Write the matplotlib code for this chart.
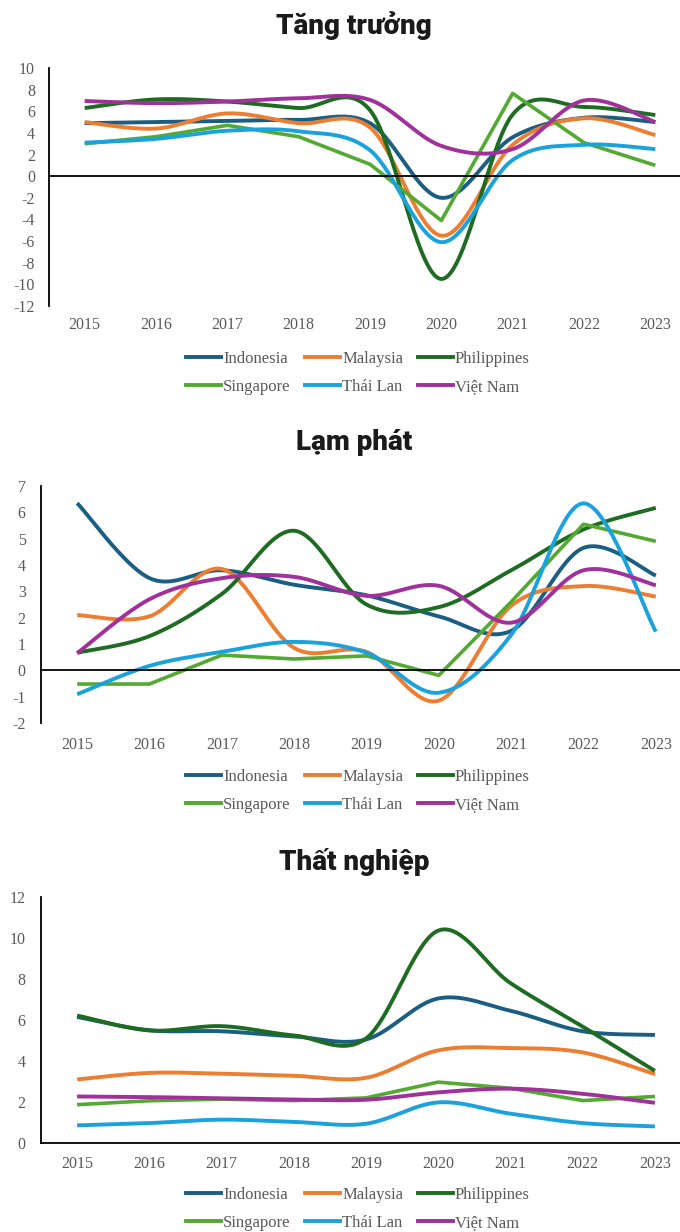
import numpy as np
import matplotlib.pyplot as plt
from matplotlib.lines import Line2D

# ---- data ----
years = ["2015", "2016", "2017", "2018", "2019", "2020", "2021", "2022", "2023"]
countries = ["Indonesia", "Malaysia", "Philippines", "Singapore", "Thái Lan", "Việt Nam"]
colors = ["#1b5e83", "#ed7d31", "#1e6b22", "#53a932", "#1aa2dc", "#a0309a"]

# Tang truong (GDP growth, %)
growth_idn = [4.9, 5.0, 5.1, 5.2, 4.9, -2.0, 3.6, 5.4, 5.0]
growth_mys = [5.0, 4.4, 5.8, 4.9, 4.5, -5.5, 2.9, 5.35, 3.8]
growth_phl = [6.3, 7.1, 6.9, 6.3, 6.1, -9.5, 5.7, 6.4, 5.65]
growth_sgp = [3.0, 3.65, 4.7, 3.65, 1.1, -4.1, 7.65, 3.1, 1.0]
growth_tha = [3.1, 3.45, 4.2, 4.15, 2.4, -6.1, 1.5, 2.9, 2.5]
growth_vnm = [6.95, 6.75, 6.9, 7.2, 7.05, 2.8, 2.5, 7.0, 5.0]

# Lam phat (inflation, %)
infl_idn = [6.35, 3.5, 3.8, 3.25, 2.85, 2.05, 1.5, 4.65, 3.6]
infl_mys = [2.1, 2.05, 3.85, 0.85, 0.7, -1.15, 2.45, 3.2, 2.8]
infl_phl = [0.67, 1.3, 2.9, 5.3, 2.5, 2.4, 3.8, 5.35, 6.17]
infl_sgp = [-0.52, -0.52, 0.58, 0.43, 0.55, -0.19, 2.6, 5.55, 4.9]
infl_tha = [-0.91, 0.17, 0.7, 1.08, 0.67, -0.85, 1.35, 6.34, 1.47]
infl_vnm = [0.65, 2.7, 3.5, 3.55, 2.83, 3.21, 1.81, 3.8, 3.23]

# That nghiep (unemployment, %)
unemp_idn = [6.15, 5.5, 5.45, 5.2, 5.05, 7.05, 6.45, 5.45, 5.27]
unemp_mys = [3.1, 3.42, 3.38, 3.28, 3.18, 4.52, 4.63, 4.42, 3.36]
unemp_phl = [6.22, 5.49, 5.7, 5.25, 5.1, 10.36, 7.8, 5.68, 3.52]
unemp_sgp = [1.87, 2.06, 2.14, 2.07, 2.2, 2.97, 2.67, 2.07, 2.27]
unemp_tha = [0.86, 0.97, 1.14, 1.03, 0.94, 1.98, 1.43, 0.97, 0.81]
unemp_vnm = [2.27, 2.24, 2.18, 2.12, 2.11, 2.47, 2.65, 2.4, 1.96]

panels = [
    ("Tăng trưởng", [growth_idn, growth_mys, growth_phl, growth_sgp, growth_tha, growth_vnm],
     (-12, 10), range(-12, 11, 2)),
    ("Lạm phát", [infl_idn, infl_mys, infl_phl, infl_sgp, infl_tha, infl_vnm],
     (-2, 7), range(-2, 8)),
    ("Thất nghiệp", [unemp_idn, unemp_mys, unemp_phl, unemp_sgp, unemp_tha, unemp_vnm],
     (0, 12), range(0, 13, 2)),
]

# pixel layout of each panel: (left, right, top, bottom, title_y, xlabel_pad, ylabel_pad, legend rows y)
W, H = 680, 1232
layout = [
    (49, 691, 68, 306, 26, 8, 10, 373),
    (41, 692, 486, 723, 443, 10, 11, 791),
    (41, 691, 897, 1143, 862, 9, 11, 1209),
]

title_font = ["Roboto", "DejaVu Sans"]
serif = ["Liberation Serif", "DejaVu Serif"]
gray = "#595959"


def smooth(y, n=40):
    # Catmull-Rom style smoothing like Excel's "smoothed line"
    x = np.arange(len(y), dtype=float)
    y = np.asarray(y, dtype=float)
    px = np.concatenate([[x[0]], x, [x[-1]]])
    py = np.concatenate([[y[0]], y, [y[-1]]])
    xs, ys = [], []
    t = np.linspace(0, 1, n)
    h00 = 2 * t**3 - 3 * t**2 + 1
    h10 = t**3 - 2 * t**2 + t
    h01 = -2 * t**3 + 3 * t**2
    h11 = t**3 - t**2
    for i in range(len(y) - 1):
        j = i + 1
        mx0 = (px[j + 1] - px[j - 1]) / 2
        my0 = (py[j + 1] - py[j - 1]) / 2
        mx1 = (px[j + 2] - px[j]) / 2
        my1 = (py[j + 2] - py[j]) / 2
        xs.append(h00 * px[j] + h10 * mx0 + h01 * px[j + 1] + h11 * mx1)
        ys.append(h00 * py[j] + h10 * my0 + h01 * py[j + 1] + h11 * my1)
    return np.concatenate(xs), np.concatenate(ys)


fig = plt.figure(figsize=(W / 100, H / 100), dpi=100)

for (title, series, ylim, yticks), (l, r, t, b, ty, xpad, ypad, legy) in zip(panels, layout):
    ax = fig.add_axes([l / W, 1 - b / H, (r - l) / W, (b - t) / H])
    for name, vals, c in zip(countries, series, colors):
        if name == "Singapore":
            ax.plot(range(len(vals)), vals, color=c, lw=2.6, solid_capstyle="butt")
        else:
            sx, sy = smooth(vals)
            ax.plot(sx, sy, color=c, lw=2.8, solid_capstyle="butt")

    ax.set_xlim(-0.5, len(years) - 0.5)
    ax.set_ylim(*ylim)
    ax.set_xticks(range(len(years)))
    ax.set_xticklabels(years, family=serif, fontsize=11.5, color=gray)
    ax.set_yticks(list(yticks))
    ax.set_yticklabels([str(v) for v in yticks], family=serif, fontsize=11.5, color=gray)
    ax.tick_params(axis="x", length=0, pad=xpad)
    ax.tick_params(axis="y", length=0, pad=ypad)
    for s in ["top", "right", "bottom"]:
        ax.spines[s].set_visible(False)
    ax.spines["left"].set_linewidth(1.3)
    ax.spines["left"].set_color("black")
    ax.axhline(0, color="black", lw=1.3, clip_on=False)
    ax.set_facecolor("none")

    fig.text(354 / W, 1 - ty / H, title, ha="center", va="center",
             fontsize=20, fontweight=900, family=title_font, color="#1a1a1a")

    # legend: two rows of three
    order = [0, 3, 1, 4, 2, 5]
    handles = [Line2D([], [], color=colors[i], lw=2.8) for i in order]
    labels = [countries[i] for i in order]
    fig.legend(handles, labels, loc="center", bbox_to_anchor=(358 / W, 1 - legy / H),
               ncol=3, frameon=False, handlelength=2.1, handletextpad=0.1,
               columnspacing=0.9, labelspacing=0.75,
               prop={"family": serif, "size": 12}, labelcolor=gray)

fig.savefig("out.png", dpi=100)
